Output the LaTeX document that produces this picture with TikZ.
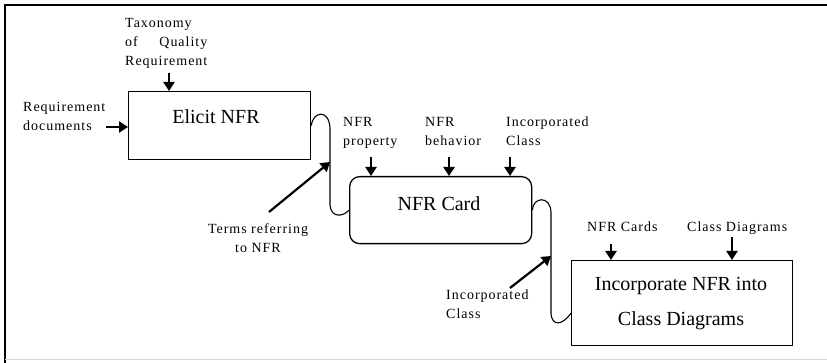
\documentclass[tikz,border=0pt]{standalone}
\usepackage{fontspec}
\setmainfont{Liberation Serif}
\newfontfamily\spaced[LetterSpace=7]{Liberation Serif}
\usepackage{calc}
\usetikzlibrary{arrows.meta}
\tikzset{
  box/.style={draw, line width=1.3pt, inner sep=0, anchor=north west},
  big/.style={font=\fontsize{20}{35}\selectfont, inner sep=0, align=center},
  small/.style={font=\spaced\fontsize{14}{19}\selectfont, inner sep=0, anchor=north west},
  inarr/.style={line width=2.2pt, -{Triangle[width=11pt,length=9pt]}},
  flow/.style={line width=1.1pt},
}
\begin{document}
\begin{tikzpicture}[x=1pt,y=-1pt]
\useasboundingbox (0,0) rectangle (827,363);
% frame
\draw[line width=1.3pt] (5,363) -- (5,5) -- (827,5);
\draw[black!15, line width=1pt] (5,359) -- (827,359);

% boxes
\node[box, minimum width=182pt, minimum height=68pt] (elicit) at (128,91) {};
\node[box, rounded corners=10pt, minimum width=182pt, minimum height=67pt] (card) at (349,176) {};
\node[box, minimum width=221pt, minimum height=85pt] (inc) at (571,260) {};

% box texts
\node[big] (elicitT) at (216,117) {Elicit NFR};
\node[big] (cardT) at (439,204) {NFR Card};
\node[big] (incT) at (681,304) {Incorporate NFR into\\Class Diagrams};

% labels
\node[small, align=left] (tax) at (125,18) {Taxonomy\\\makebox[\widthof{Requirement}][s]{of\hfill Quality}\\Requirement};
\node[small, align=left] (req) at (23,102) {Requirement\\documents};
\node[small, align=center, anchor=north] (terms) at (258,223) {Terms referring\\to NFR};
\node[small, align=left] (prop) at (343,117) {NFR\\property};
\node[small, align=left] (beh) at (425,117) {NFR\\behavior};
\node[small, align=left] (incc1) at (506,117) {Incorporated\\Class};
\node[small] (cards) at (587,222) {NFR Cards};
\node[small] (cdiag) at (687,222) {Class Diagrams};
\node[small, align=left] (incc2) at (446,290) {Incorporated\\Class};

% flow connectors
\coordinate (s1a) at (330,128);
\coordinate (s1b) at (330,205);
\draw[flow] (elicit.east) .. controls (313,111) and (329,109) .. (s1a) -- (s1b)
  .. controls (331,218) and (343,217) .. (card.west);
\coordinate (s2a) at (551,212);
\coordinate (s2b) at (551,314);
\draw[flow] (card.east) .. controls (533,197) and (550,195) .. (s2a) -- (s2b)
  .. controls (552,325) and (561,327) .. ([yshift=-10pt]inc.west);

% input arrows
\coordinate (taxE) at (169,73);
\draw[inarr] (taxE) -- (taxE |- elicit.north);
\coordinate (reqE) at (106,127);
\draw[inarr] (reqE) -- (reqE -| elicit.west);
\coordinate (termsE) at (269,212);
\coordinate (s1hit) at (330,162);
\draw[inarr] (termsE) -- (s1hit);
\coordinate (propE) at (371,157);
\draw[inarr] (propE) -- (propE |- card.north);
\coordinate (behE) at (449,157);
\draw[inarr] (behE) -- (behE |- card.north);
\coordinate (inc1E) at (510,157);
\draw[inarr] (inc1E) -- (inc1E |- card.north);
\coordinate (cardsE) at (611,244);
\draw[inarr] (cardsE) -- (cardsE |- inc.north);
\coordinate (cdiagE) at (732,237);
\draw[inarr] (cdiagE) -- (cdiagE |- inc.north);
\coordinate (inc2E) at (510,288);
\coordinate (s2hit) at (551,256);
\draw[inarr] (inc2E) -- (s2hit);
\end{tikzpicture}
\end{document}
